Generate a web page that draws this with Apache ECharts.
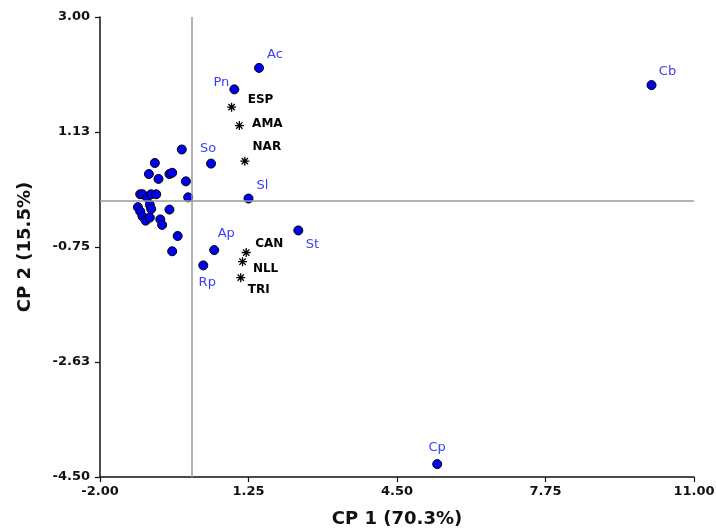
<!DOCTYPE html>
<html>
<head>
<meta charset="utf-8">
<script src="https://cdn.jsdelivr.net/npm/echarts@6/dist/echarts.min.js"></script>
<style>html,body{margin:0;padding:0;background:#fff}#c{width:716px;height:532px}</style>
</head>
<body>
<div id="c"></div>
<script>
// Blue dots (species scores)
const dotNames = ['Ac','Pn','So','Sl','St','Ap','Rp','Cb','Cp',
  '','','','','','','','','','','','','','','','','','','','','','','','',''];
const dotX = [1.48, 0.94, 0.43, 1.25, 2.34, 0.50, 0.26, 10.07, 5.38,
  -0.21,-0.80,-0.93,-0.72,-0.48,-0.42,-0.12,-1.12,-1.07,-0.97,-0.88,-0.77,
  -0.91,-0.88,-1.17,-1.12,-1.07,-1.00,-0.91,-0.68,-0.64,-0.48,-0.07,-0.30,-0.42];
const dotY = [2.17, 1.82, 0.61, 0.04, -0.48, -0.80, -1.05, 1.89, -4.29,
  0.84, 0.62, 0.44, 0.36, 0.44, 0.46, 0.32, 0.11, 0.11, 0.06, 0.11, 0.11,
  -0.06,-0.13,-0.10,-0.17,-0.25,-0.32,-0.27,-0.30,-0.39,-0.14, 0.06,-0.57,-0.82];

// Asterisks (sites)
const starNames = ['ESP','AMA','NAR','CAN','NLL','TRI'];
const starX = [0.88, 1.05, 1.17, 1.20, 1.12, 1.08];
const starY = [1.53, 1.23, 0.65, -0.84, -0.99, -1.25];

// Axis ticks
const xTicks = [-2.00, 1.25, 4.50, 7.75, 11.00];
const yTicks = [-4.50, -2.63, -0.75, 1.13, 3.00];

// label placement (style only)
const labelOffset = {
  Ac:[16,-13], Pn:[-13,-7], So:[-3,-15], Sl:[14,-13], St:[14,14], Ap:[12,-16], Rp:[4,17], Cb:[16,-13], Cp:[0,-16],
  ESP:[29,-7], AMA:[28,-2], NAR:[22,-14], CAN:[23,-9], NLL:[23,7], TRI:[18,12]
};

const FONT = 'DejaVu Sans, Liberation Sans, Arial, sans-serif';

const dotData = dotX.map((x,i)=>{
  const n = dotNames[i];
  const d = {value:[x, dotY[i]], name:n};
  if (n) d.label = {show:true, formatter:n, position:'inside', offset:labelOffset[n]};
  return d;
});
const starData = starX.map((x,i)=>({
  value:[x, starY[i]], name:starNames[i],
  label:{show:true, formatter:starNames[i], position:'inside', offset:labelOffset[starNames[i]]}
}));

const chart = echarts.init(document.getElementById('c'), null, {renderer:'canvas'});
chart.setOption({
  animation:false,
  backgroundColor:'#fff',
  grid:{left:100, right:22, top:17, bottom:55, containLabel:false, outerBoundsMode:'none'},
  xAxis:{
    type:'value', min:xTicks[0], max:xTicks[xTicks.length-1], interval:xTicks[1]-xTicks[0],
    name:'CP 1 (70.3%)', nameLocation:'middle', nameGap:33,
    nameTextStyle:{fontFamily:FONT, fontWeight:'bold', fontSize:18, color:'#111'},
    axisLine:{onZero:false, lineStyle:{color:'#111', width:1.5}},
    axisTick:{show:true, length:5, lineStyle:{color:'#111', width:1.2}},
    axisLabel:{fontFamily:FONT, fontWeight:'bold', fontSize:13, color:'#111', margin:8,
      formatter:v=>v.toFixed(2)},
    splitLine:{show:false}
  },
  yAxis:{
    type:'value', min:yTicks[0], max:yTicks[yTicks.length-1], interval:(yTicks[4]-yTicks[0])/4,
    name:'CP 2 (15.5%)', nameLocation:'middle', nameGap:66, nameRotate:90,
    nameTextStyle:{fontFamily:FONT, fontWeight:'bold', fontSize:18, color:'#111'},
    axisLine:{onZero:false, lineStyle:{color:'#111', width:1.5}},
    axisTick:{show:true, length:5, lineStyle:{color:'#111', width:1.2}},
    axisLabel:{fontFamily:FONT, fontWeight:'bold', fontSize:13, color:'#111', margin:10,
      formatter:v=>v.toFixed(2)},
    splitLine:{show:false}
  },
  series:[
    {
      type:'scatter', name:'ref', data:[], silent:true,
      markLine:{silent:true, symbol:['none','none'], label:{show:false},
        lineStyle:{color:'#9a9a9a', width:1.5, type:'solid', opacity:1},
        data:[{xAxis:0},{yAxis:0}]}
    },
    {
      type:'scatter', name:'species', data:dotData, symbol:'circle', symbolSize:9,
      itemStyle:{color:'#0000f0', borderColor:'#000', borderWidth:1, opacity:1},
      label:{fontFamily:FONT, fontSize:13, color:'#3c3cff'}
    },
    {
      type:'scatter', name:'sites', data:starData,
      symbol:'path://M0,5L10,5M5,0L5,10M1.5,1.5L8.5,8.5M8.5,1.5L1.5,8.5', symbolSize:9,
      itemStyle:{color:'rgba(0,0,0,0)', borderColor:'#000', borderWidth:1.3, opacity:1},
      label:{fontFamily:FONT, fontSize:12, fontWeight:'bold', color:'#000'}
    }
  ]
});
</script>
</body>
</html>
